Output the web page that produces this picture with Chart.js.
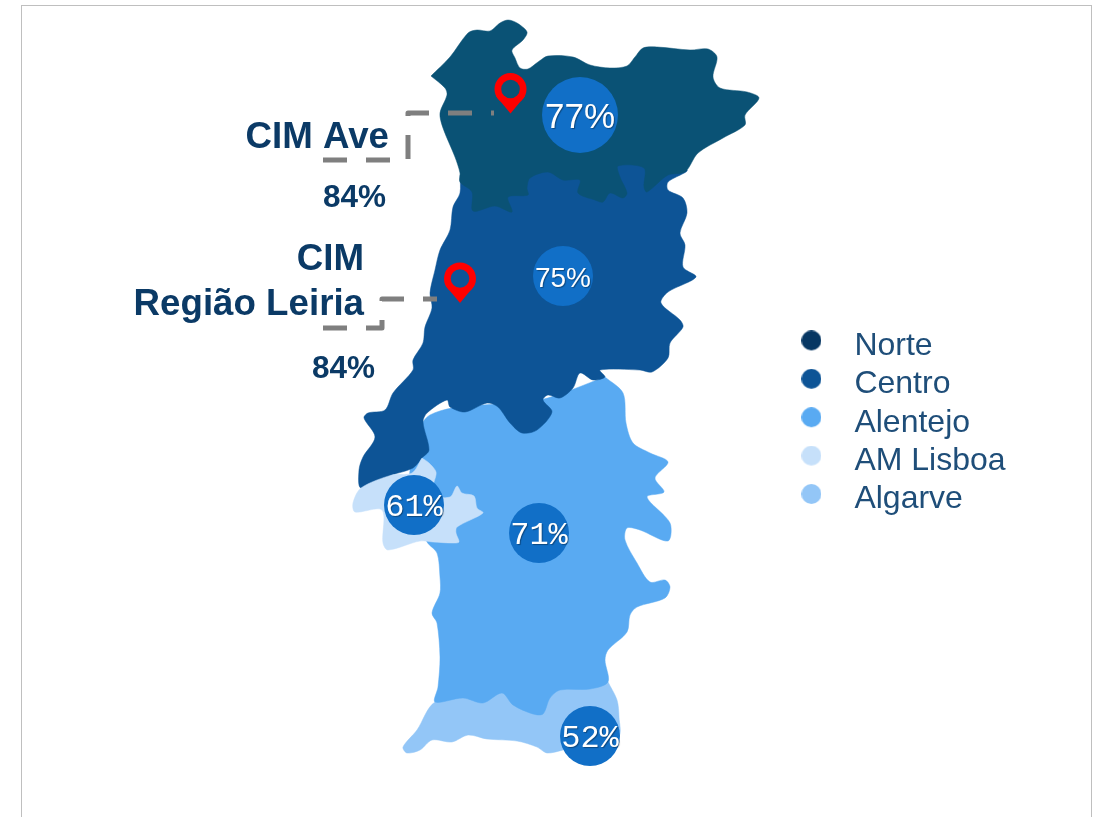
<!DOCTYPE html>
<html><head><meta charset="utf-8">
<style>
html,body{margin:0;padding:0;background:#fff;overflow:hidden;width:1097px;height:817px}
#frame{position:absolute;left:21px;top:5px;width:1069px;height:900px;border:1px solid #BFBFBF;box-sizing:content-box}
#c{position:absolute;left:0;top:0}
</style></head><body>
<div id="frame"></div>
<canvas id="c" width="1097" height="817"></canvas>
<script src="https://cdn.jsdelivr.net/npm/chart.js@4"></script>
<script>
const regions = ["Norte","Centro","Alentejo","AM Lisboa","Algarve"];
const legendColors = ["#073763","#0D5496","#59AAF2","#C6E0FA","#93C6F7"];
const mapColors = ["#0A5275","#0D5496","#59AAF2","#C6E0FA","#93C6F7"];

const norteOutline = [[431,76],[450,57],[468,33],[477,30],[490,31],[500,23],[508,20],[517,23],[527,32],[523,40],[512,50],[515,58],[520,68],[528,69],[538,62],[548,56],[573,57],[590,65],[610,68],[627,66],[635,57],[643,48],[657,47],[690,50],[708,49],[717,57],[713,77],[720,88],[747,92],[759,98],[745,115],[745,125],[723,138],[698,153],[685,172],[668,175],[647,192],[644,187],[644,168],[618,166],[620,177],[627,193],[623,198],[610,193],[603,202],[595,200],[578,193],[580,180],[563,180],[548,172],[530,178],[527,188],[528,195],[508,197],[512,212],[495,206],[473,211],[472,192],[460,182],[460,173],[455,157],[443,128],[440,113],[447,95],[445,88],[431,76]];
const centroOutline = [[460,175],[460,193],[453,207],[450,230],[440,250],[435,270],[430,293],[432,308],[425,327],[423,343],[413,360],[413,370],[393,393],[385,410],[368,413],[364,418],[375,437],[363,457],[359,470],[361,488],[392,475],[413,468],[422,458],[429,450],[423,422],[427,413],[447,400],[450,407],[465,412],[487,403],[498,407],[510,423],[522,433],[537,430],[552,412],[543,400],[548,395],[560,398],[573,388],[580,373],[593,380],[605,377],[600,370],[640,370],[652,372],[668,358],[670,343],[683,327],[680,320],[661,303],[668,292],[696,277],[683,267],[685,245],[680,233],[687,213],[683,198],[668,190],[668,182],[687,170],[640,160],[540,165],[460,175]];
const alentejoOutline = [[605,377],[623,393],[626,423],[633,443],[650,453],[668,462],[655,478],[664,492],[647,497],[670,523],[668,541],[640,530],[627,528],[625,540],[637,563],[650,582],[665,580],[670,587],[665,598],[637,607],[630,615],[627,632],[608,650],[605,660],[608,682],[590,689],[560,690],[550,698],[543,714],[533,714],[513,705],[502,693],[483,703],[463,698],[435,702],[438,687],[440,657],[437,623],[432,613],[440,593],[440,577],[437,553],[427,542],[415,510],[410,470],[430,415],[540,400],[605,377]];
const lisboaOutline = [[422,458],[429,463],[436,472],[434,482],[430,495],[450,497],[457,486],[462,493],[474,496],[477,508],[483,513],[457,527],[456,533],[459,542],[453,543],[433,542],[420,541],[388,550],[383,543],[382,510],[355,512],[353,503],[361,488],[392,475],[412,473],[422,458]];
const algarveOutline = [[608,682],[617,700],[619,717],[618,737],[563,750],[547,753],[537,747],[517,741],[487,739],[468,735],[452,742],[432,740],[420,750],[407,753],[403,747],[417,730],[435,702],[500,680],[608,682]];

const shareValues = [77,75,71,61,52];
const shareX = [580,563,539,414,590];
const shareY = [115,276,533,505,736];
const shareRadius = [38,30,30,30,30];
const shareFonts = ['35px "Liberation Sans"','28px "Liberation Sans"','32px "Liberation Mono"','32px "Liberation Mono"','32px "Liberation Mono"'];

const calloutTitles = [["CIM Ave"],["CIM","Região Leiria"]];
const calloutValues = ["84%","84%"];
const pinX = [510.5,460];
const pinY = [89,278.5];
const pinHoleColors = ["#0A5275","#0D5496"];
const pinTipAve = [[496,96],[510.5,113.5],[525,96],[496,96]];
const pinTipLeiria = [[445.5,285.5],[460,303],[474.5,285.5],[445.5,285.5]];
const leaderAve = [[323,160],[408,160],[408,113],[494,113]];
const leaderLeiria = [[323,328],[382,328],[382,299],[437,299]];

const toPts = a => a.map(p => ({x:p[0],y:p[1]}));

function dotCanvas(color){
  const c=document.createElement('canvas');c.width=20;c.height=31;
  const g=c.getContext('2d');
  g.fillStyle=color;g.beginPath();g.arc(10,10,10,0,Math.PI*2);g.fill();
  return c;
}

function region(i,pts,order){
  return {type:'line',label:regions[i],data:toPts(pts),backgroundColor:mapColors[i],borderColor:mapColors[i],borderWidth:0.5,
    fill:'shape',tension:0.3,pointRadius:0,pointHoverRadius:0,order:order};
}
function leader(pts){
  return {type:'line',label:'leader',data:toPts(pts),borderColor:'#7F7F7F',borderWidth:5,borderDash:[24,19],borderJoinStyle:'round',
    fill:false,tension:0,pointRadius:0,order:5};
}
function pinTip(pts){
  return {type:'line',label:'pin',data:toPts(pts),backgroundColor:'#FF0000',borderColor:'#FF0000',borderWidth:0,fill:'shape',tension:0,pointRadius:0,order:4};
}

const textPlugin = {
  id:'mapText',
  afterLayout(chart){
    const l=chart.legend; l.left=778; l.right=1090; l.top=323.5; l.bottom=817;
  },
  afterDraw(chart){
    const {ctx,scales:{x,y}}=chart; ctx.save();
    shareValues.forEach((v,i)=>{
      ctx.font=shareFonts[i]; ctx.textAlign='center'; ctx.textBaseline='middle';
      ctx.shadowColor='rgba(0,0,0,0.35)';ctx.shadowOffsetX=1;ctx.shadowOffsetY=1;ctx.shadowBlur=1;
      ctx.fillStyle='#FFFFFF';
      ctx.fillText(v+'%',x.getPixelForValue(shareX[i]),y.getPixelForValue(shareY[i])+3);
    });
    ctx.shadowColor='transparent';ctx.shadowOffsetX=0;ctx.shadowOffsetY=0;ctx.shadowBlur=0;
    ctx.textBaseline='alphabetic';
    ctx.fillStyle='#0B3A66';
    ctx.textAlign='right';
    ctx.font='bold 36.7px "Liberation Sans"';
    ctx.fillText(calloutTitles[0][0],389,148);
    ctx.fillText(calloutTitles[1][0],364,270);
    ctx.fillText(calloutTitles[1][1],364,315);
    ctx.font='bold 31.5px "Liberation Sans"';
    ctx.fillText(calloutValues[0],386,207);
    ctx.fillText(calloutValues[1],375,378);
    ctx.restore();
  }
};

new Chart(document.getElementById('c'),{
  type:'scatter',
  data:{datasets:[
    region(4,algarveOutline,40),
    region(2,alentejoOutline,30),
    region(3,lisboaOutline,20),
    region(1,centroOutline,25),
    region(0,norteOutline,15),
    leader(leaderAve),
    leader(leaderLeiria),
    pinTip(pinTipAve),
    pinTip(pinTipLeiria),
    {type:'scatter',label:'pin heads',data:pinX.map((v,i)=>({x:v,y:pinY[i]})),pointStyle:'circle',pointRadius:16,backgroundColor:'#FF0000',borderWidth:0,order:3},
    {type:'scatter',label:'pin holes',data:pinX.map((v,i)=>({x:v,y:pinY[i]})),pointStyle:'circle',pointRadius:9.3,backgroundColor:pinHoleColors,borderWidth:0,order:1},
    {type:'bubble',label:'share',data:shareValues.map((v,i)=>({x:shareX[i],y:shareY[i],r:shareRadius[i],v})),backgroundColor:'#116FC7',borderWidth:0,order:2}
  ]},
  options:{
    responsive:false,animation:false,
    layout:{padding:0,autoPadding:false},
    scales:{
      x:{type:'linear',min:0,max:1097,display:false},
      y:{type:'linear',min:0,max:817,reverse:true,display:false}
    },
    plugins:{
      tooltip:{enabled:false},
      legend:{
        display:true,position:'chartArea',align:'start',
        labels:{
          usePointStyle:true,pointStyleWidth:54,boxHeight:14,padding:6.4,color:'#1F4E79',
          font:{family:'"Liberation Sans"',size:32},
          generateLabels:()=>regions.map((r,i)=>({text:r,fillStyle:legendColors[i],strokeStyle:legendColors[i],lineWidth:0,pointStyle:dotCanvas(legendColors[i]),hidden:false,datasetIndex:i,fontColor:'#1F4E79'}))
        }
      }
    }
  },
  plugins:[textPlugin]
});
</script>
</body></html>
